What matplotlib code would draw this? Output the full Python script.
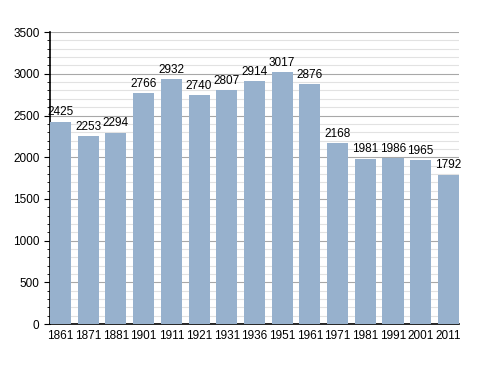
import numpy as np
import matplotlib.pyplot as plt
from matplotlib.ticker import MultipleLocator

years = ["1861", "1871", "1881", "1901", "1911", "1921", "1931", "1936",
         "1951", "1961", "1971", "1981", "1991", "2001", "2011"]
population = [2425, 2253, 2294, 2766, 2932, 2740, 2807, 2914,
              3017, 2876, 2168, 1981, 1986, 1965, 1792]

plt.rcParams['font.family'] = ['Liberation Sans', 'DejaVu Sans']

fig = plt.figure(figsize=(4.88, 3.73), dpi=100)
ax = fig.add_axes([0.1025, 0.131, 0.838, 0.783])

x = np.arange(len(years))
bars = ax.bar(x, population, width=0.76, align='edge', color='#97b1cd', zorder=3)

for xi, v in zip(x, population):
    ax.text(xi + 0.38, v + 40, str(v), ha='center', va='bottom', fontsize=8.5, zorder=4)

ax.set_xlim(0, len(years) - 1 + 0.76)
ax.set_ylim(0, 3500)
ax.set_xticks(x + 0.38)
ax.set_xticklabels(years)
ax.yaxis.set_major_locator(MultipleLocator(500))
ax.yaxis.set_minor_locator(MultipleLocator(100))
ax.grid(axis='y', which='major', color='#a8a8a8', linewidth=0.8, zorder=1)
ax.grid(axis='y', which='minor', color='#e2e2e2', linewidth=0.8, zorder=1)

for s in ['top', 'right']:
    ax.spines[s].set_visible(False)
ax.spines['left'].set_linewidth(1.2)
ax.spines['bottom'].set_linewidth(1.2)
ax.tick_params(axis='x', length=0, labelsize=8.5, pad=4)
ax.tick_params(axis='y', which='major', length=4, labelsize=8.5)
ax.tick_params(axis='y', which='minor', length=2)

fig.savefig('out.png', dpi=100)
